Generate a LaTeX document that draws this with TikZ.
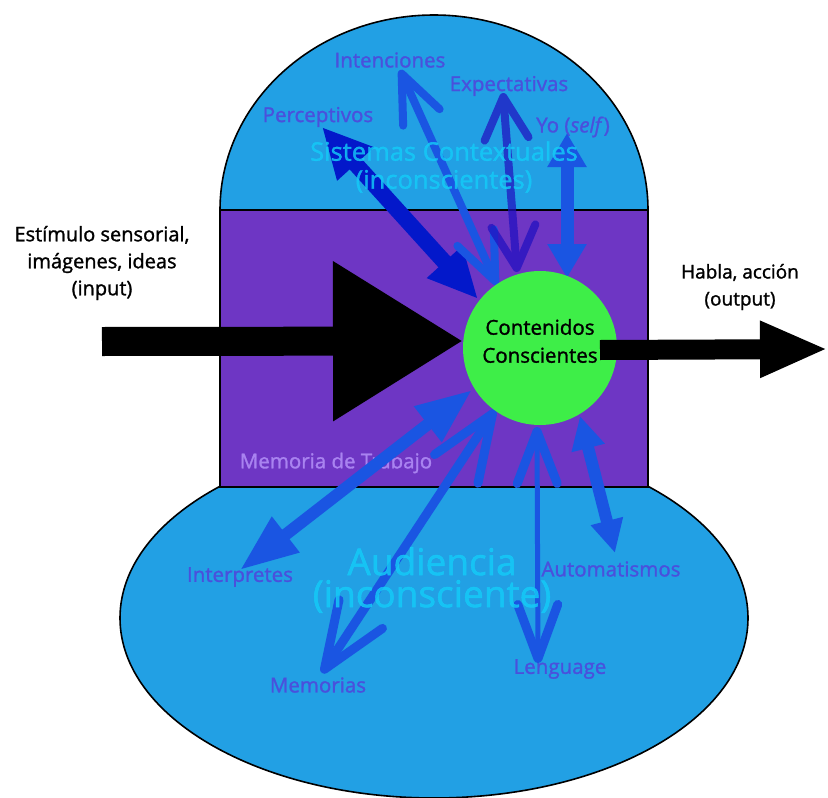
\documentclass[tikz,border=0pt]{standalone}
\usepackage{fontspec}
\setmainfont{Open Sans}[FakeBold=1.3]
\usetikzlibrary{arrows.meta}
\definecolor{skyb}{HTML}{22A0E4}
\definecolor{workp}{HTML}{6E36C4}
\definecolor{consg}{HTML}{3EEE48}
\definecolor{arrb}{HTML}{1A55E2}
\definecolor{arrdark}{HTML}{0318CA}
\definecolor{arrexp}{HTML}{2010C0}
\definecolor{lblc}{HTML}{4A50DC}
\definecolor{bigc}{HTML}{14CCF8}
\definecolor{memc}{HTML}{A983F0}
\begin{document}
\begin{tikzpicture}[x=1pt,y=-1pt,
  outline/.style={draw=black, line width=1.6pt},
  lbl/.style={text=lblc, font=\fontsize{20.5}{24}\selectfont, inner sep=0pt},
  bigtxt/.style={text=bigc, opacity=0.8, align=center, inner sep=0pt},
  iotxt/.style={text=black, align=center, inner sep=0pt},
  bluearrow/.style={draw=arrb, line width=12pt},
]
\useasboundingbox (0,0) rectangle (828,798);
% background shapes
\draw[outline, fill=skyb] (434,618) ellipse [x radius=314, y radius=180];
\draw[outline, fill=skyb] (220,210) arc[start angle=180, end angle=360, x radius=214, y radius=195] -- cycle;
\draw[outline, fill=workp] (220,210) rectangle (648,487);

\node[text=memc, font=\fontsize{20.5}{24}\selectfont, inner sep=0pt] (mem) at (336,463) {Memoria de Trabajo};

% labels
\node[lbl] (int) at (390,60) {Intenciones};
\node[lbl] (exp) at (509,86) {Expectativas};
\node[lbl] (per) at (318,117) {Perceptivos};
\node[lbl] (yo) at (573,127) {Yo (\textit{self})};
\node[lbl] (inter) at (240,577) {Interpretes};
\node[lbl] (memo) at (318,685) {Memorias};
\node[lbl] (len) at (560,669) {Lenguage};
\node[lbl] (aut) at (611,569) {Automatismos};

% arrow end points
\coordinate (perA) at (322,127);  \coordinate (perB) at (478,299);
\coordinate (intA) at (400,70);   \coordinate (intB) at (497,285);
\coordinate (expA) at (503,93);   \coordinate (expB) at (517,272);
\coordinate (yoA) at (567,133);   \coordinate (yoB) at (567,278);
\coordinate (itA) at (472,390);   \coordinate (itB) at (240,570);
\coordinate (meA) at (495,410);   \coordinate (meB) at (322,673);
\coordinate (leA) at (537,427);   \coordinate (leB) at (538,663);
\coordinate (auA) at (580,416);   \coordinate (auB) at (615,553);

% arrows
\draw[draw=arrdark, fill=arrdark, line width=16pt, {Triangle[length=50pt,width=46pt]}-{Triangle[length=50pt,width=44pt]}] (perA) -- (perB);
\draw[draw=arrb, line width=8pt, {Straight Barb[length=48pt,width=40pt,round]}-{Straight Barb[length=48pt,width=40pt,round]}] (intA) -- (intB);
\begin{scope}[transparency group, opacity=0.72]
\draw[draw=arrexp, line width=8pt, {Straight Barb[length=42pt,width=44pt,round]}-{Straight Barb[length=42pt,width=44pt,round]}] (expA) -- (expB);
\end{scope}
\draw[bluearrow, fill=arrb, line width=13pt, {Triangle[length=34pt,width=37pt]}-{Triangle[length=34pt,width=37pt]}] (yoA) -- (yoB);
\draw[bluearrow, fill=arrb, {Triangle[length=56pt,width=42pt]}-{Triangle[length=58pt,width=42pt]}] (itA) -- (itB);
\draw[bluearrow, line width=9pt, {Straight Barb[length=66pt,width=52pt,round]}-{Straight Barb[length=66pt,width=52pt,round]}] (meA) -- (meB);
\draw[bluearrow, line width=5pt, {Straight Barb[length=52pt,width=40pt,round,line width=9pt]}-{Straight Barb[length=54pt,width=40pt,round,line width=9pt]}] (leA) -- (leB);
\draw[bluearrow, fill=arrb, {Triangle[length=33pt,width=32pt]}-{Triangle[length=33pt,width=31pt]}] (auA) -- (auB);

% big translucent titles
\node[bigtxt, font=\fontsize{25.5}{28}\selectfont] (sis) at (444,167) {Sistemas Contextuales\\(inconscientes)};
\node[bigtxt, font=\fontsize{37}{32}\selectfont] (aud) at (432,580) {Audiencia\\(inconsciente)};

% input arrow
\coordinate (inS) at (102,341.5);
\coordinate (inE) at (463,341);
\draw[black, line width=29pt, -{Triangle[length=130pt,width=152pt]}] (inS) -- (inE);

% conscious contents
\node[circle, fill=consg, minimum size=154pt, inner sep=0pt] (cc) at (540,348) {};
\node[align=center, inner sep=0pt, font=\fontsize{20.5}{28}\selectfont] (cctxt) at (540,341) {Contenidos\\Conscientes};

% output arrow
\coordinate (outS) at (600,350);
\coordinate (outE) at (828,349);
\draw[black, line width=20pt, -{Triangle[length=68pt,width=52pt]}] (outS) -- (outE);

% input / output texts
\node[iotxt, font=\fontsize{20}{27}\selectfont] (intxt) at (102,263) {Estímulo sensorial,\\imágenes, ideas\\(input)};
\node[iotxt, font=\fontsize{19}{27}\selectfont] (outtxt) at (740,287) {Habla, acción\\(output)};
\end{tikzpicture}
\end{document}
